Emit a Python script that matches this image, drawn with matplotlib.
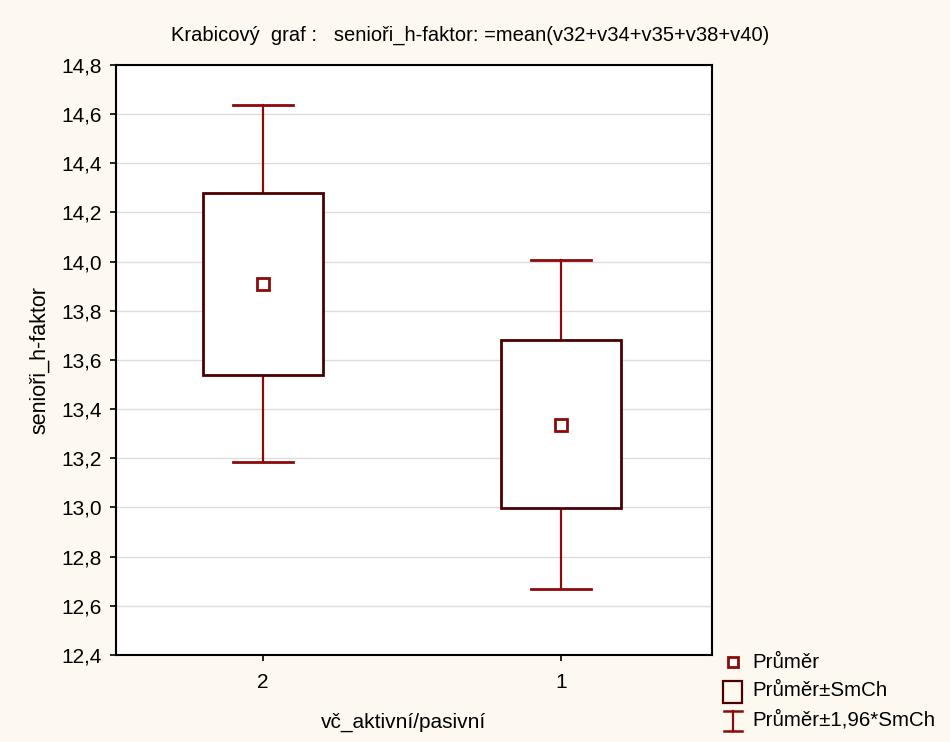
import numpy as np
import matplotlib
matplotlib.use("Agg")
import matplotlib.pyplot as plt
from matplotlib.patches import Rectangle
from matplotlib.ticker import FuncFormatter, MultipleLocator

plt.rcParams['font.family'] = ['Liberation Sans', 'DejaVu Sans']

# hodnoty
skupiny = ['2', '1']
prumer = [13.909, 13.335]
smch_dolni = [13.539, 12.998]
smch_horni = [14.279, 13.681]
ci_dolni = [13.185, 12.668]
ci_horni = [14.637, 14.007]

bg = '#fdf9f0'
c_box = '#4a0000'
c_err = '#8b0a0a'

fig = plt.figure(figsize=(9.5, 7.42), dpi=100, facecolor=bg)
ax = fig.add_axes([0.1221, 0.1173, 0.6274, 0.7951])
ax.set_facecolor('white')

x = np.arange(len(skupiny))
sirka = 0.4
cap = 0.1
for i in x:
    ax.plot([i, i], [smch_horni[i], ci_horni[i]], color=c_err, lw=1.6, zorder=2)
    ax.plot([i, i], [ci_dolni[i], smch_dolni[i]], color=c_err, lw=1.6, zorder=2)
    ax.plot([i - cap, i + cap], [ci_horni[i]] * 2, color=c_err, lw=2, zorder=2)
    ax.plot([i - cap, i + cap], [ci_dolni[i]] * 2, color=c_err, lw=2, zorder=2)
    ax.add_patch(Rectangle((i - sirka / 2, smch_dolni[i]), sirka,
                           smch_horni[i] - smch_dolni[i],
                           facecolor='white', edgecolor=c_box, lw=2, zorder=3))
ax.plot(x, prumer, 's', ms=8, mfc='white', mec=c_err, mew=2, zorder=4)

ax.set_xlim(-0.493, 1.507)
ax.set_ylim(12.4, 14.8)
ax.set_xticks(x)
ax.set_xticklabels(skupiny)
ax.yaxis.set_major_locator(MultipleLocator(0.2))
ax.yaxis.set_major_formatter(FuncFormatter(lambda v, p: f"{v:.1f}".replace('.', ',')))
ax.tick_params(labelsize=15, length=4, width=1.2, color='black')
ax.tick_params(axis='x', pad=9)
ax.tick_params(axis='y', pad=6)
ax.grid(axis='y', color='#dcdcdc', lw=1)
ax.set_axisbelow(True)
for s in ax.spines.values():
    s.set_linewidth(1.5)

ax.set_ylabel('senioři_h-faktor', fontsize=15.5, labelpad=8)
ax.set_xlabel('vč_aktivní/pasivní', fontsize=15, labelpad=15)
ax.xaxis.label.set_x(0.483)
fig.text(0.495, 1 - 35 / 742, 'Krabicový  graf :   senioři_h-faktor: =mean(v32+v34+v35+v38+v40)',
         ha='center', va='center', fontsize=14.5)

# legenda
lg = fig.add_axes([0, 0, 1, 1], facecolor='none')
lg.set_xlim(0, 950)
lg.set_ylim(742, 0)
lg.axis('off')
lg.plot([733], [662], 's', ms=7, mfc='white', mec=c_err, mew=2)
lg.add_patch(Rectangle((723, 681), 19, 22, facecolor='none', edgecolor=c_box, lw=1.6))
lg.plot([733, 733], [711, 731], color=c_err, lw=1.6)
lg.plot([724, 742], [711, 711], color=c_err, lw=1.8)
lg.plot([724, 742], [731, 731], color=c_err, lw=1.8)
for yy, t in zip([662, 691, 720], ['Průměr', 'Průměr±SmCh', 'Průměr±1,96*SmCh']):
    lg.text(752, yy, t, fontsize=14.8, va='center', ha='left')

fig.savefig('out.png', dpi=100, facecolor=bg)
